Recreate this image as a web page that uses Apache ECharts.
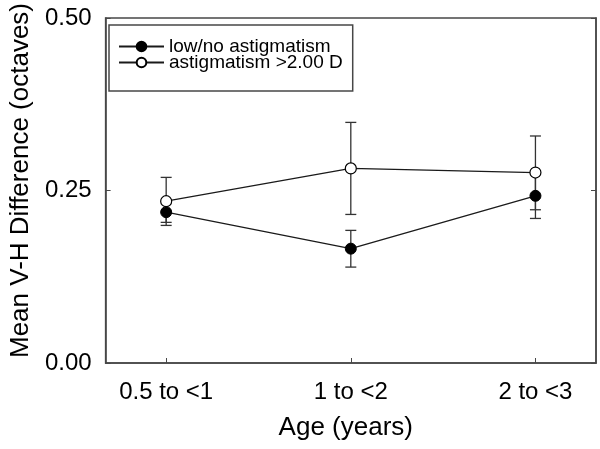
<!DOCTYPE html>
<html>
<head>
<meta charset="utf-8">
<script src="https://cdn.jsdelivr.net/npm/echarts@6/dist/echarts.min.js"></script>
<style>html,body{margin:0;padding:0;background:#fff}#c{width:600px;height:449px}</style>
</head>
<body>
<div id="c"></div>
<script>
var ages = ['0.5 to <1', '1 to <2', '2 to <3'];
var yTicks = [0, 0.25, 0.5];
var lowMean  = [0.2186, 0.1657, 0.2423];
var lowLower = [0.2038, 0.1390, 0.2095];
var lowUpper = [0.2335, 0.1922, 0.2750];
var astMean  = [0.2345, 0.2820, 0.2760];
var astLower = [0.1994, 0.2153, 0.2221];
var astUpper = [0.2690, 0.3487, 0.3290];
var names = ['low/no astigmatism', 'astigmatism >2.00 D'];

var FONT = 'Liberation Sans, Arial, sans-serif';
var FRAME = '#474747';

function pts(m){ return m.map(function(v,i){ return [i, v]; }); }
function bars(lo, hi){ return lo.map(function(v,i){ return [i, v, hi[i]]; }); }

function errItem(params, api){
  var x = api.value(0);
  var p1 = api.coord([x, api.value(1)]);
  var p2 = api.coord([x, api.value(2)]);
  var hw = 5.5;
  var st = {stroke:'#333', lineWidth:1.3};
  return {type:'group', children:[
    {type:'line', shape:{x1:p1[0], y1:p1[1], x2:p2[0], y2:p2[1]}, style:st},
    {type:'line', shape:{x1:p1[0]-hw, y1:p1[1], x2:p1[0]+hw, y2:p1[1]}, style:st},
    {type:'line', shape:{x1:p2[0]-hw, y1:p2[1], x2:p2[0]+hw, y2:p2[1]}, style:st}
  ]};
}

var chart = echarts.init(document.getElementById('c'), null, {renderer:'canvas'});
chart.setOption({
  animation:false,
  backgroundColor:'#fff',
  textStyle:{fontFamily:FONT},
  grid:{left:102, right:4, top:17, bottom:86, show:true, borderColor:FRAME, borderWidth:1.5, backgroundColor:'transparent'},
  legend:{
    data:names, orient:'vertical', left:109, top:25,
    padding:[12,10,19,9], itemGap:-3, itemWidth:45, itemHeight:12,
    borderColor:FRAME, borderWidth:1.5, backgroundColor:'#fff',
    textStyle:{fontSize:19, color:'#000', fontFamily:FONT}
  },
  xAxis:{
    type:'value', min:-0.328, max:2.328,
    name:'Age (years)', nameLocation:'middle', nameGap:52,
    nameTextStyle:{fontSize:26, color:'#000', fontFamily:FONT, padding:[0,10,0,0]},
    axisLine:{show:true, onZero:false, lineStyle:{color:FRAME, width:1.5}},
    axisTick:{show:true, inside:true, length:5, customValues:[0,1,2], lineStyle:{color:FRAME}},
    axisLabel:{customValues:[0,1,2], fontSize:24, color:'#000', margin:17, fontFamily:FONT,
      formatter:function(v){ return ages[Math.round(v)]; }},
    splitLine:{show:false}
  },
  yAxis:[{
    type:'value', min:0, max:0.5, interval:0.25,
    name:'Mean V-H Difference (octaves)', nameLocation:'middle', nameGap:69,
    nameTextStyle:{fontSize:26, color:'#000', fontFamily:FONT, padding:[0,0,0,20]},
    axisLine:{show:true, onZero:false, lineStyle:{color:FRAME, width:1.5}},
    axisTick:{show:true, inside:true, length:5, lineStyle:{color:FRAME}},
    axisLabel:{fontSize:24, color:'#000', margin:14, fontFamily:FONT,
      formatter:function(v){ return v.toFixed(2); }},
    splitLine:{show:false}
  },{
    type:'value', min:0, max:0.5, interval:0.25, position:'right',
    axisLine:{show:true, onZero:false, lineStyle:{color:FRAME, width:1.5}},
    axisTick:{show:true, inside:true, length:5, lineStyle:{color:FRAME}},
    axisLabel:{show:false}, splitLine:{show:false}
  }],
  series:[
    {type:'custom', name:'err-low', renderItem:errItem, data:bars(lowLower, lowUpper), z:1, silent:true},
    {type:'custom', name:'err-ast', renderItem:errItem, data:bars(astLower, astUpper), z:1, silent:true},
    {type:'line', name:names[0], data:pts(lowMean), symbol:'circle', symbolSize:11, z:3,
      lineStyle:{color:'#1a1a1a', width:1.3},
      itemStyle:{color:'#000', borderColor:'#000', borderWidth:1}},
    {type:'line', name:names[1], data:pts(astMean), symbol:'circle', symbolSize:11, z:4,
      lineStyle:{color:'#1a1a1a', width:1.3},
      itemStyle:{color:'#fff', borderColor:'#000', borderWidth:1.2}}
  ]
});
</script>
</body>
</html>
